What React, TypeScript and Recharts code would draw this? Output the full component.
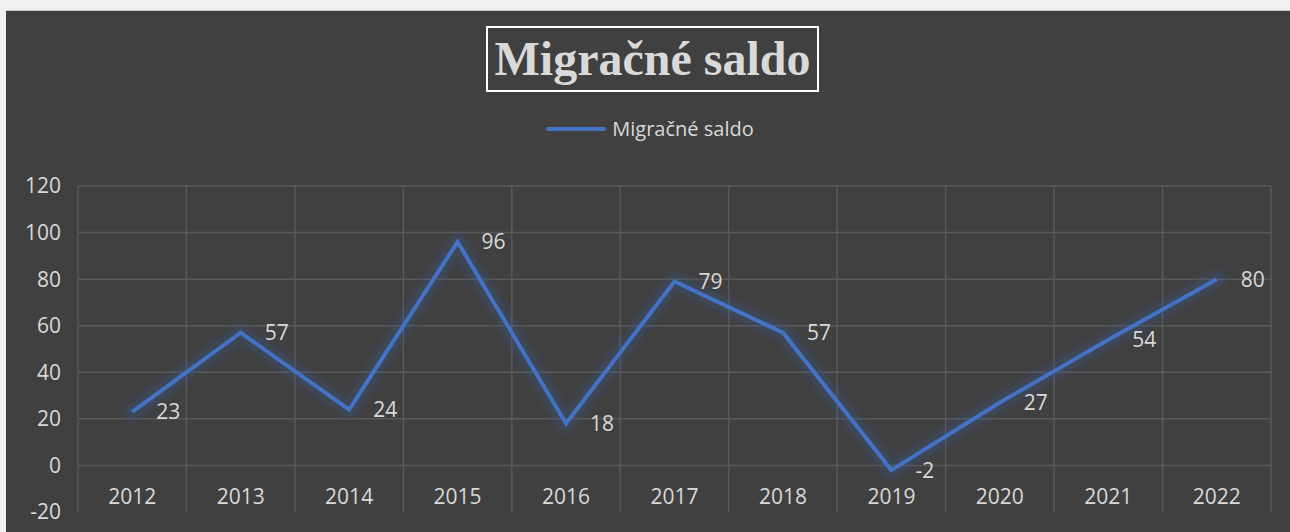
import { LineChart, Line, XAxis, YAxis, CartesianGrid, LabelList } from 'recharts';

const years = ['2012', '2013', '2014', '2015', '2016', '2017', '2018', '2019', '2020', '2021', '2022'];
const saldo = [23, 57, 24, 96, 18, 79, 57, -2, 27, 54, 80];
const yTicks = [-20, 0, 20, 40, 60, 80, 100, 120];
const gridValues = [0, 20, 40, 60, 80, 100, 120];

const data = years.map((year, i) => ({ year, saldo: saldo[i] }));

const TEXT = '#d9d9d9';
const BLUE = '#4472c4';
const FONT = '"Open Sans", "Noto Sans", sans-serif';

const XTick = (props: any) => {
  const { x, y, payload } = props;
  return (
    <text x={x} y={y} dy={-16} textAnchor="middle" dominantBaseline="central" fill={TEXT} fontSize={21} fontFamily={FONT}>
      {payload.value}
    </text>
  );
};

export default function App() {
  return (
    <div style={{ position: 'absolute', left: 0, top: 0, width: 1290, height: 532, background: '#f0f0f0', overflow: 'hidden' }}>
      <div
        style={{
          position: 'absolute',
          left: 6,
          top: 10,
          width: 1284,
          height: 522,
          background: '#404040',
          borderTop: '1px solid #c4c4c4',
          boxSizing: 'border-box',
        }}
      >
        <div
          style={{
            position: 'absolute',
            left: 480,
            top: 15,
            width: 333,
            height: 66,
            border: '2px solid #ffffff',
            boxSizing: 'border-box',
            display: 'flex',
            alignItems: 'center',
            justifyContent: 'center',
            fontFamily: '"Liberation Serif", "Times New Roman", serif',
            fontWeight: 'bold',
            fontSize: 48,
            color: TEXT,
            lineHeight: 1,
          }}
        >
          Migračné saldo
        </div>
        <div
          style={{
            position: 'absolute',
            left: 0,
            top: 104,
            width: 1284,
            display: 'flex',
            justifyContent: 'center',
            alignItems: 'center',
            fontFamily: FONT,
            fontSize: 20,
            color: TEXT,
            paddingLeft: 4,
            boxSizing: 'border-box',
          }}
        >
          <svg width={60} height={8} style={{ marginRight: 6 }}>
            <line x1={2} y1={4} x2={58} y2={4} stroke={BLUE} strokeWidth={4} strokeLinecap="round" />
          </svg>
          <span>Migračné saldo</span>
        </div>
        <LineChart width={1284} height={521} data={data} margin={{ top: 175, right: 19, bottom: 0, left: 12 }}>
          <CartesianGrid
            stroke="#595959"
            strokeWidth={1.5}
            horizontalValues={gridValues}
            verticalCoordinatesGenerator={({ offset }: any) =>
              years.map((_, i) => offset.left + (i * offset.width) / years.length).concat(offset.left + offset.width)
            }
          />
          <XAxis
            dataKey="year"
            scale="band"
            height={20}
            axisLine={false}
            tickLine={false}
            tickSize={0}
            tickMargin={0}
            tick={<XTick />}
            interval={0}
          />
          <YAxis
            width={60}
            domain={[-20, 120]}
            ticks={yTicks}
            axisLine={false}
            tickLine={false}
            tickSize={0}
            tickMargin={17}
            tick={{ fill: TEXT, fontSize: 21, fontFamily: FONT }}
          />
          <Line
            dataKey="saldo"
            stroke="#3a5f9f"
            strokeOpacity={0.1}
            strokeWidth={24}
            strokeLinejoin="round"
            strokeLinecap="round"
            dot={false}
            legendType="none"
            isAnimationActive={false}
          />
          <Line
            dataKey="saldo"
            stroke="#3a5f9f"
            strokeOpacity={0.18}
            strokeWidth={14}
            strokeLinejoin="round"
            strokeLinecap="round"
            dot={false}
            legendType="none"
            isAnimationActive={false}
          />
          <Line
            dataKey="saldo"
            name="Migračné saldo"
            stroke={BLUE}
            strokeWidth={4}
            strokeLinejoin="miter"
            dot={false}
            isAnimationActive={false}
          >
            <LabelList dataKey="saldo" position="right" offset={24} fill={TEXT} fontSize={21} fontFamily={FONT} />
          </Line>
        </LineChart>
      </div>
    </div>
  );
}
